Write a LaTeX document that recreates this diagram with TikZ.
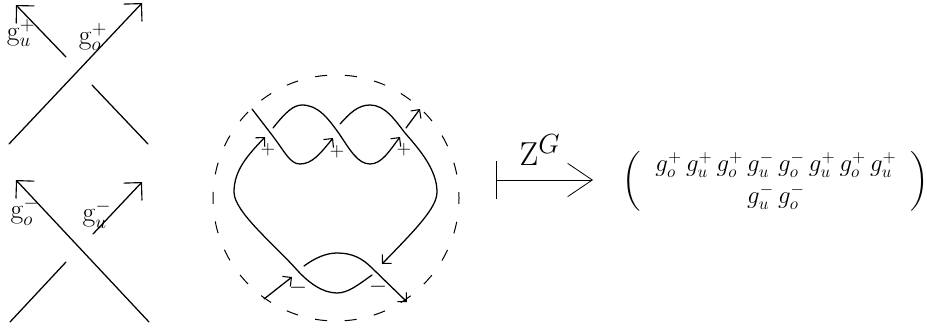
\documentclass[tikz,border=0pt]{standalone}
\usepackage{amsmath,amssymb}
\usepackage{graphicx}
\usepackage{tikz}
\usetikzlibrary{arrows.meta}

\begin{document}
\begin{tikzpicture}[
    x=0.75pt,y=-0.75pt,
    strand/.style={line width=0.95pt,line cap=round},
    bigarr/.style={strand,-{Straight Barb[length=9.5pt,width=19pt,line width=0.85pt]}},
    arr/.style={strand,-{Straight Barb[length=4.8pt,width=9.6pt,line width=0.8pt]}},
    mapto/.style={line width=0.7pt,{Bar[width=29pt,line width=0.7pt]}-{Straight Barb[length=18.5pt,width=25pt,line width=0.6pt]}},
    gen/.style={inner sep=0pt,font=\huge},
    plussgn/.style={inner sep=0pt,font=\Large},
    minussgn/.style={inner sep=0pt,font=\LARGE}
  ]
    \useasboundingbox (0,0) rectangle (927,329);
    % positive crossing
    \draw[bigarr] (9,144)--(142,3);
    \draw[strand] (148,144)--(92,85);
    \draw[bigarr] (66,57)--(16,5);
    \node[gen] (gup) at (21,33) {$\mathrm{g}_u^+$};
    \node[gen] (gop) at (93,37) {$\mathrm{g}_o^+$};
    % negative crossing
    \draw[bigarr] (149,322)--(16,180);
    \draw[bigarr] (93,234)--(142,182);
    \draw[strand] (66,262)--(10,322);
    \node[gen] (gom) at (25,211) {$\mathrm{g}_o^-$};
    \node[gen] (gum) at (97,214) {$\mathrm{g}_u^-$};
    % braid in the disc
    \draw[line width=0.75pt,dash pattern=on 9pt off 13.29pt,dash phase=4.5pt] (459,198) arc[start angle=0,end angle=360,radius=92.25pt];
    \draw[arr] (252,109)--(272,135) .. controls (285,152) and (290,164) .. (300,164) .. controls (312,164) and (320,154) .. (333,138);
    \draw[arr] (273,128) .. controls (285,113) and (293,105) .. (302,105) .. controls (318,105) and (328,118) .. (340,135) .. controls (350,150) and (358,164) .. (370,164) .. controls (382,164) and (390,150) .. (400,137);
    \draw[arr] (340,124) .. controls (350,113) and (358,105) .. (370,105) .. controls (385,105) and (395,120) .. (405,133) .. controls (420,150) and (437,170) .. (437,192) .. controls (437,208) and (415,230) .. (382,264);
    \draw[arr] (372,275) .. controls (358,285) and (348,293) .. (337,293) .. controls (322,293) and (308,282) .. (297,270) .. controls (275,245) and (234,212) .. (234,192) .. controls (234,170) and (248,155) .. (265,137);
    \draw[arr] (304,266) .. controls (315,258) and (326,253) .. (337,253) .. controls (352,253) and (362,258) .. (372,268)--(407,302);
    \draw[arr] (406,128)--(420,109);
    \draw[arr] (264,299)--(292,277);
    \foreach \x/\y/\s/\sty/\nam in {268/150/+/plussgn/a,337/152/+/plussgn/b,404/150/+/plussgn/c,298/288/-/minussgn/d,378/287/-/minussgn/e}{
      \node[\sty] (s\nam) at (\x,\y) {$\s$};
    }
    % the map
    \coordinate (mapS) at (496,180);
    \coordinate (mapE) at (593,180);
    \draw[mapto] (mapS)--(mapE);
    \node[inner sep=0pt,font=\Huge] (zlab) at (540,150) {$\mathrm{Z}^G$};
    \node[inner sep=0pt,font=\LARGE] (word) at (776,181) {\scalebox{1.08}{$\left(\begin{array}{@{\hspace{10pt}}c@{\hspace{10pt}}}
      g_o^+\,g_u^+\,g_o^+\,g_u^-\,g_o^-\,g_u^+\,g_o^+\,g_u^+\\
      g_u^-\,g_o^-
    \end{array}\right)$}};
  \end{tikzpicture}
\end{document}
